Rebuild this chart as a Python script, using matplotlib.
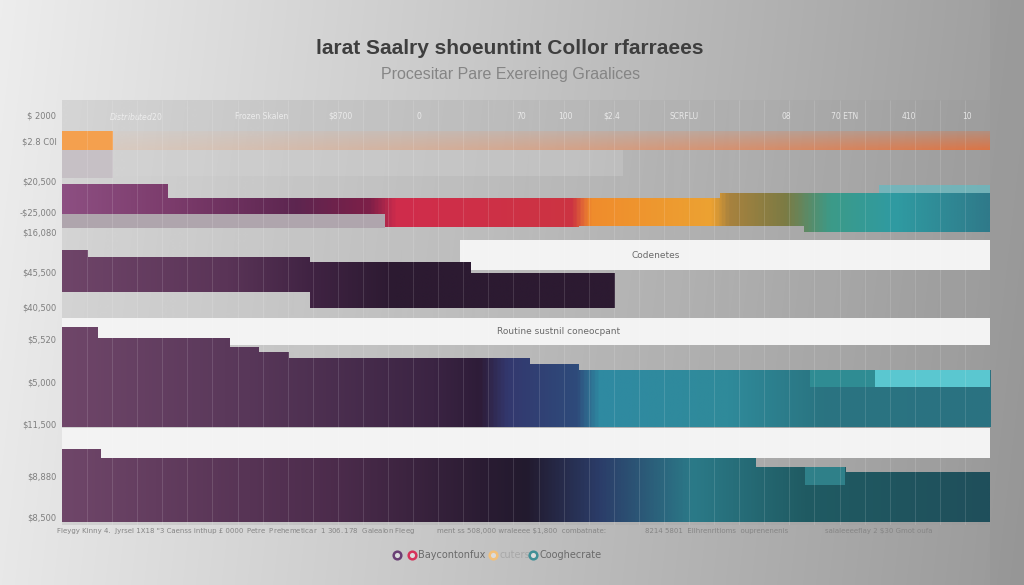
"""
Stepped salary band chart with gradient-filled rows.
"""

import numpy as np
import matplotlib
matplotlib.use('Agg')
import matplotlib.pyplot as plt
from matplotlib.colors import LinearSegmentedColormap, to_rgba

# ---------------------------------------------------------------- data
# x is the pay scale (0-100), y counts down from the top of the plot area
TITLE = 'larat Saalry shoeuntint Collor rfarraees'
SUBTITLE = 'Procesitar Pare Exereineg Graalices'

row1_left = [0.0]
row1_right = [5.5]
row1_top = [31]
row1_bottom = [50]

row3_left = [0.0, 11.4, 34.8, 55.7, 70.9, 80.0]
row3_right = [11.4, 34.8, 55.7, 70.9, 80.0, 100.0]
row3_top = [84, 98, 98, 98, 93, 93]
row3_bottom = [114, 114, 127, 126, 126, 132]

row5_left = [0.0, 2.8, 26.7, 44.0]
row5_right = [2.8, 26.7, 44.0, 59.6]
row5_top = [150, 157, 162, 173]
row5_bottom = [192, 192, 208, 208]

row6_left = [0.0, 3.8, 18.1, 21.2, 24.4, 50.4, 55.6]
row6_right = [3.8, 18.1, 21.2, 24.4, 50.4, 55.6, 100.0]
row6_top = [227, 238, 247, 252, 258, 264, 270]
row6_bottom = [327, 327, 327, 327, 327, 327, 327]

row7_left = [0.0, 4.1, 74.7, 84.4]
row7_right = [4.1, 74.7, 84.4, 100.0]
row7_top = [349, 358, 367, 372]
row7_bottom = [422, 422, 422, 422]

band_left = [42.9, 0.0, 0.0]
band_right = [100.0, 100.0, 100.0]
band_top = [140, 218, 328]
band_bottom = [170, 245, 358]
band_labels = ['Codenetes', 'Routine sustnil coneocpant', '']
band_label_x = [64.0, 53.5, 50.0]

y_tick_pos = [16, 42, 82, 113, 133, 173, 208, 240, 283, 325, 377, 418]
y_tick_labels = ['$ 2000', '$2.8 C0I', '$20,500', '-$25,000', '$16,080', '$45,500',
                 '$40,500', '$5,520', '$5,000', '$11,500', '$8,880', '$8,500']

top_tick_pos = [8.0, 18.0, 21.5, 30.0, 38.5, 49.5, 54.3, 59.3, 67.0, 78.0, 84.3, 91.3, 97.5]
top_tick_labels = ['$ Distributed  $20', '', 'Frozen Skalen', '$8700', '0', '70', '100',
                   '$2.4', 'SCRFLU', '08', '70 ETN', '410', '10']

bottom_pos = [9.5, 29.0, 49.5, 70.5, 88.0]
bottom_labels = ['Fleygy Kinny 4.  Jyrsel 1X18 "3 Caenss inthup \u00a3 0000',
                 'Petre  Prehemeticar  1 $306.   $178  Galealon Fleeg',
                 'ment ss 508,000 wraleeee $1,800  combatnate:',
                 '8214 5801  Ellhrenritioms  ouprenenenis',
                 'salaleeeeflay 2 $30 Gmot oufa']

legend_labels = ['', 'Baycontonfux', 'cuters', 'Cooghecrate']
legend_colors = ['#6a3f75', '#d6335a', '#f2c07a', '#3f8f96']

# colour stops for each gradient row (position along the row, colour)
row3_stops = [(0.0, '#8d4f82'), (0.12, '#7b3b6b'), (0.25, '#5d2650'), (0.33, '#7d1f48'),
              (0.36, '#d02c4c'), (0.55, '#cc3442'), (0.57, '#f08c2c'), (0.70, '#eca232'),
              (0.72, '#a8823e'), (0.78, '#7c7b44'), (0.83, '#3c9a88'), (0.90, '#2f9ba2'),
              (1.0, '#2f7a8a')]
row5_stops = [(0.0, '#6f4569'), (0.3, '#5a3457'), (0.45, '#402343'), (0.6, '#2c1a31'),
              (1.0, '#2c1a31')]
row6_stops = [(0.0, '#6f4669'), (0.2, '#583759'), (0.4, '#3b2443'), (0.45, '#2e1c38'),
              (0.48, '#33386e'), (0.555, '#2e4b7b'), (0.58, '#2f8aa2'), (0.72, '#2f8a9a'),
              (0.82, '#2a7481'), (1.0, '#2b7281')]
row7_stops = [(0.0, '#6f4669'), (0.3, '#4b2b4b'), (0.45, '#2b1c33'), (0.5, '#221a2e'),
              (0.58, '#2b3d69'), (0.68, '#2b7a88'), (0.8, '#205b63'), (1.0, '#1f4f5b')]


def make_cmap(name, stops):
    return LinearSegmentedColormap.from_list(name, stops)


def gradient_bars(ax, lefts, rights, tops, bottoms, cmap, zorder=3):
    """Draw stepped bars and fill them with one horizontal gradient."""
    widths = [r - l for l, r in zip(lefts, rights)]
    heights = [b - t for t, b in zip(tops, bottoms)]
    bars = ax.bar(lefts, heights, width=widths, bottom=tops, align='edge',
                  color='none', linewidth=0, zorder=zorder)
    x0, x1 = min(lefts), max(rights)
    y0, y1 = min(tops), max(bottoms)
    grad = np.linspace(0, 1, 512).reshape(1, -1)
    for bar in bars:
        im = ax.imshow(grad, cmap=cmap, aspect='auto', extent=(x0, x1, y1, y0),
                       zorder=zorder, interpolation='bilinear')
        im.set_clip_path(bar)
    return bars


fig = plt.figure(figsize=(10.24, 5.85), dpi=100)

# background gradient (figure-wide)
bg = fig.add_axes([0, 0, 1, 1], zorder=0)
bg.set_xlim(0, 1024)
bg.set_ylim(585, 0)
bg.axis('off')
bx = np.linspace(0, 1, 400)
by = np.linspace(0, 1, 200)
BX, BY = np.meshgrid(bx, by)
light = 0.91 - 0.31 * BX + 0.02 * (1 - BY)
bg_img = np.dstack([light, light, light])
bg.imshow(bg_img, extent=(0, 1024, 585, 0), aspect='auto', interpolation='bilinear')
bg.axvspan(990, 1024, color='#8e8e8e', alpha=0.2, lw=0)

# main plot area
ax = fig.add_axes([62 / 1024, 1 - 525 / 585, 928 / 1024, 425 / 585], zorder=1)
ax.set_xlim(0, 100)
ax.set_ylim(425, 0)
ax.axis('off')
ax.patch.set_alpha(0)

# soft grey wash over the plot area
ax.imshow(np.dstack([np.full((1, 2), 0.55)] * 3 + [np.array([[0.20, 0.10]])]),
          extent=(0, 100, 425, 0), aspect='auto', zorder=0, interpolation='bilinear')

# white label bands
ax.bar(band_left, [b - t for t, b in zip(band_top, band_bottom)],
       width=[r - l for l, r in zip(band_left, band_right)], bottom=band_top,
       align='edge', color='#f3f3f3', linewidth=0, zorder=2)
for xl, yt, yb, lab in zip(band_label_x, band_top, band_bottom, band_labels):
    ax.text(xl, (yt + yb) / 2, lab, ha='center', va='center', fontsize=6.5,
            color='#6a6a6a', zorder=6)

# pale grey blocks behind the first rows
ax.bar([0.0], [28], width=[5.5], bottom=[50], align='edge', color='#c6c0c5',
       linewidth=0, zorder=1)
ax.bar([0.0], [14], width=[34.8], bottom=[114], align='edge', color='#afa5ad',
       linewidth=0, zorder=1)
ax.bar([5.5], [26], width=[55.0], bottom=[50], align='edge', color='#d6d6d6',
       alpha=0.3, linewidth=0, zorder=1)

# orange row + faded stripe
ax.bar(row1_left, [b - t for t, b in zip(row1_top, row1_bottom)],
       width=[r - l for l, r in zip(row1_left, row1_right)], bottom=row1_top,
       align='edge', color='#f4a04e', linewidth=0, zorder=3)
stripe = np.zeros((24, 400, 4))
sx = np.linspace(0, 1, 400)
sy = np.linspace(0, 1, 24)
c0, c1 = np.array(to_rgba('#e6bfa3')), np.array(to_rgba('#e2703c'))
for i, v in enumerate(sy):
    col = c0[None, :] * (1 - sx[:, None]) + c1[None, :] * sx[:, None]
    col[:, 3] = (0.35 + 0.55 * sx) * (0.35 + 0.65 * v)
    stripe[i] = col
ax.imshow(stripe, extent=(5.5, 100, 50, 31), aspect='auto', zorder=3,
          interpolation='bilinear')

# gradient rows
gradient_bars(ax, row3_left, row3_right, row3_top, row3_bottom, make_cmap('r3', row3_stops))
ax.bar([88.0], [8], width=[12.0], bottom=[85], align='edge', color='#62bcc4',
       alpha=0.7, linewidth=0, zorder=3)
gradient_bars(ax, row5_left, row5_right, row5_top, row5_bottom, make_cmap('r5', row5_stops))
gradient_bars(ax, row6_left, row6_right, row6_top, row6_bottom, make_cmap('r6', row6_stops))
ax.bar([80.6, 87.6], [17, 17], width=[7.0, 12.4], bottom=[270, 270], align='edge',
       color=['#2f8c93', '#5ac7d0'], linewidth=0, zorder=4)
gradient_bars(ax, row7_left, row7_right, row7_top, row7_bottom, make_cmap('r7', row7_stops))
ax.bar([80.1], [18], width=[4.3], bottom=[367], align='edge', color='#2f8089',
       linewidth=0, zorder=4)

# faint vertical grid lines
grid_x = np.linspace(0, 100, 38)[1:-1]
ax.vlines(grid_x, 0, 425, colors='white', linewidth=0.6, alpha=0.15, zorder=5)

# tick texts
for yp, lab in zip(y_tick_pos, y_tick_labels):
    ax.text(-0.6, yp, lab, ha='right', va='center', fontsize=6, color='#7e7e7e',
            clip_on=False)
for xp, lab in zip(top_tick_pos, top_tick_labels):
    ax.text(xp, 16, lab, ha='center', va='center', fontsize=5.5, color='#f2f2f2',
            alpha=0.85, zorder=6)
for xp, lab in zip(bottom_pos, bottom_labels):
    ax.text(xp, 431, lab, ha='center', va='center', fontsize=5, color='#858585',
            clip_on=False)

# titles
fig.text(0.498, 1 - 48 / 585, TITLE, ha='center', va='center', fontsize=15,
         fontweight='bold', color='#3e3e3e', family='Liberation Sans')
fig.text(0.499, 1 - 75 / 585, SUBTITLE, ha='center', va='center', fontsize=11.5,
         color='#858585', family='Liberation Sans')

# legend row
leg_x = [397, 412, 493, 533]
for xp, col, lab in zip(leg_x, legend_colors, legend_labels):
    bg.plot(xp, 555, 'o', ms=5.5, mfc='#dcdcdc', mec=col, mew=1.8, zorder=3)
    if lab:
        bg.text(xp + 6, 555, lab, ha='left', va='center', fontsize=7,
                color='#6a6a6a' if col != '#f2c07a' else '#a8a8a8', zorder=3)

fig.savefig('out.png', dpi=100)
